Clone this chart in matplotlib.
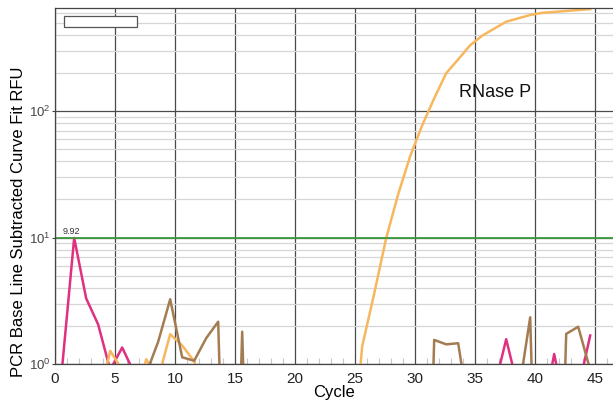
import matplotlib.pyplot as plt
from matplotlib.patches import Rectangle
from matplotlib.ticker import FixedLocator, NullFormatter

OUTPUT_PATH = "out.png"

# Cycle positions of the readings (instrument reads ~0.6 into each cycle)
CYCLES = [0.6, 1.6, 2.6, 3.6, 4.6, 5.6, 6.6, 7.6, 8.6, 9.6,
          10.6, 11.6, 12.6, 13.6, 14.6, 15.6, 16.6, 17.6, 18.6, 19.6,
          20.6, 21.6, 22.6, 23.6, 24.6, 25.6, 26.6, 27.6, 28.6, 29.6,
          30.6, 31.6, 32.6, 33.6, 34.6, 35.6, 36.6, 37.6, 38.6, 39.6,
          40.6, 41.6, 42.6, 43.6, 44.6]

# RFU readings per well (values under 1 fall below the visible range)
RNASE_P = [0.3, 0.4, 0.3, 0.5, 1.27, 0.9, 0.45, 1.09, 0.77, 1.72,
           1.4, 1.05, 0.5, 0.4, 0.5, 0.4, 0.5, 0.4, 0.5, 0.4,
           0.5, 0.4, 0.5, 0.4, 0.12, 1.38, 3.6, 9.9, 22.0, 44.0,
           77.0, 126.0, 199.0, 256.0, 331.0, 394.0, 448.0, 508.0, 540.0, 574.0,
           597.0, 607.0, 618.0, 628.0, 639.0]

WELL_PINK = [0.95, 9.92, 3.3, 2.05, 0.9, 1.35, 0.85, 0.5, 0.4, 0.5,
             0.4, 0.5, 0.4, 0.5, 0.4, 0.5, 0.4, 0.5, 0.4, 0.5,
             0.4, 0.5, 0.4, 0.5, 0.4, 0.5, 0.4, 0.5, 0.4, 0.5,
             0.4, 0.5, 0.4, 0.5, 0.4, 0.5, 0.64, 1.57, 0.64, 0.5,
             0.38, 1.2, 0.4, 0.63, 1.68]

WELL_BROWN = [0.5, 0.4, 0.5, 0.4, 0.5, 0.4, 0.5, 0.84, 1.5, 3.25,
              1.13, 1.06, 1.6, 2.16, 0.001, 1.8, 0.001, 0.4, 0.5, 0.4,
              0.5, 0.4, 0.5, 0.4, 0.5, 0.4, 0.5, 0.4, 0.5, 0.4,
              0.001, 1.55, 1.43, 1.46, 0.36, 0.5, 0.4, 0.5, 0.56, 2.34,
              0.001, 0.001, 1.73, 1.97, 0.9]

THRESHOLD = 9.92

X_TICKS = [0, 5, 10, 15, 20, 25, 30, 35, 40, 45]
Y_TICKS = [1, 10, 100]
Y_TICK_LABELS = ["$10^{0}$", "$10^{1}$", "$10^{2}$"]

PINK = "#e0307f"
ORANGE = "#f7b75e"
BROWN = "#a47c52"
GREEN = "#3f9c3f"


def main():
    plt.rcParams["font.family"] = ["Liberation Sans", "DejaVu Sans"]
    plt.rcParams["mathtext.fontset"] = "custom"
    plt.rcParams["mathtext.rm"] = "Liberation Sans"

    fig = plt.figure(figsize=(6.13, 4.0), dpi=100)
    ax = fig.add_axes([0.0897, 0.09, 0.9103, 0.89])

    ax.set_yscale("log")
    ax.set_xlim(0, 46.5)
    ax.set_ylim(1, 652)

    # grid: dark every 5 cycles / decade, light minor decades
    ax.set_xticks(X_TICKS)
    ax.xaxis.set_minor_locator(FixedLocator(range(0, 47)))
    ax.set_yticks(Y_TICKS)
    ax.set_yticklabels(Y_TICK_LABELS)
    ax.yaxis.set_minor_formatter(NullFormatter())
    ax.grid(True, which="major", color="#4a4a4a", lw=0.9)
    ax.grid(True, which="minor", axis="y", color="#d6d6d6", lw=0.9)
    ax.set_axisbelow(True)

    ax.tick_params(axis="x", which="major", direction="in", length=0,
                   labelsize=11, colors="#222222", pad=6)
    ax.tick_params(axis="x", which="minor", direction="in", length=4,
                   color="#c8c8c8", width=0.8)
    ax.tick_params(axis="y", which="major", direction="out", length=2,
                   labelsize=9.5, colors="#444444", pad=1)
    ax.tick_params(axis="y", which="minor", length=0)

    for side in ["top", "left", "bottom"]:
        ax.spines[side].set_color("#444444")
        ax.spines[side].set_linewidth(0.9)
    ax.spines["right"].set_visible(False)

    # amplification curves
    ax.plot(CYCLES, WELL_PINK, color=PINK, lw=1.8)
    ax.plot(CYCLES, RNASE_P, color=ORANGE, lw=1.8)
    ax.plot(CYCLES, WELL_BROWN, color=BROWN, lw=1.8)

    # threshold line
    ax.axhline(THRESHOLD, color=GREEN, lw=1.3)
    ax.text(1.35, THRESHOLD * 1.04, f"{THRESHOLD:.2f}", fontsize=6.5,
            ha="center", va="bottom", color="#333333")

    ax.text(36.7, 139, "RNase P", fontsize=13, ha="center", va="center",
            color="#111111")

    # empty legend box in the corner
    ax.add_patch(Rectangle((0.016, 0.947), 0.131, 0.031, transform=ax.transAxes,
                           facecolor="white", edgecolor="#555555", lw=0.9,
                           zorder=5))

    ax.set_xlabel("Cycle", fontsize=12, labelpad=-1)
    ax.set_ylabel("PCR Base Line Subtracted Curve Fit RFU", fontsize=12)
    ax.yaxis.set_label_coords(-0.052, 0.40)

    fig.savefig(OUTPUT_PATH, dpi=100)
    plt.close(fig)


if __name__ == "__main__":
    main()
